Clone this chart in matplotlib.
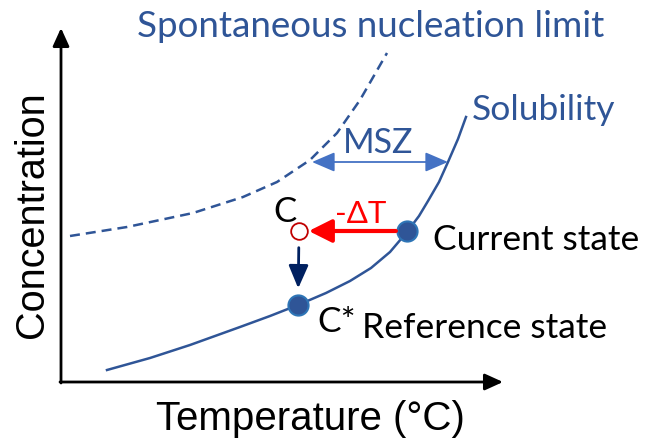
import matplotlib
matplotlib.use("Agg")
import matplotlib.pyplot as plt

# temperature / concentration in arbitrary units, origin at the axis corner
sol_T = [46, 89, 129, 179, 209, 237, 265, 289, 310, 329, 346, 358, 367, 378, 387, 397, 405]
sol_C = [12, 24, 37, 55, 66, 77, 89, 101, 114, 130, 150, 166, 181, 200, 220, 243, 265]

lim_T = [9, 66, 132, 182, 216, 249, 276, 299, 326]
lim_C = [146, 155, 169, 185, 200, 222, 249, 282, 329]

current = (346, 151)     # on the solubility curve
cooled = (238, 151)      # after cooling by dT
reference = (237, 77)    # C* on the solubility curve
msz_level = 220
msz_T = [251, 387]

x_end, y_end = 442, 354

navy = "#2F5597"
light = "#4472C4"

fig = plt.figure(figsize=(6.47, 4.40), dpi=100)
ax = fig.add_axes([0, 0, 1, 1])
ax.set_xlim(-61, 586)
ax.set_ylim(-58, 382)
ax.axis("off")

calibri_like = ["Lato", "DejaVu Sans"]
arial_like = ["Liberation Sans", "DejaVu Sans"]

# axes with arrow heads
axis_style = "-|>,head_length=0.55,head_width=0.25"
ax.annotate("", xy=(0, y_end), xytext=(0, -1),
            arrowprops=dict(arrowstyle=axis_style, color="black", lw=2,
                            mutation_scale=20, shrinkA=0, shrinkB=0))
ax.annotate("", xy=(x_end, 0), xytext=(-1, 0),
            arrowprops=dict(arrowstyle=axis_style, color="black", lw=2,
                            mutation_scale=20, shrinkA=0, shrinkB=0))

ax.plot(sol_T, sol_C, color=navy, lw=1.8, solid_joinstyle="round")
ax.plot(lim_T, lim_C, color=navy, lw=1.8, dashes=(4, 2.4))

# metastable zone width
ax.annotate("", xy=(msz_T[1], msz_level), xytext=(msz_T[0], msz_level),
            arrowprops=dict(arrowstyle="<|-|>,head_length=0.7,head_width=0.3",
                            color=light, lw=1.3, mutation_scale=20,
                            shrinkA=0, shrinkB=0))

# cooling step and drop to equilibrium
ax.annotate("", xy=cooled, xytext=current,
            arrowprops=dict(arrowstyle="-|>,head_length=0.7,head_width=0.35",
                            color="#FF0000", lw=3, mutation_scale=20,
                            shrinkA=8, shrinkB=7))
ax.annotate("", xy=reference, xytext=cooled,
            arrowprops=dict(arrowstyle="-|>,head_length=0.7,head_width=0.3",
                            color="#002060", lw=2, mutation_scale=20,
                            shrinkA=12, shrinkB=12))

ax.plot(*cooled, marker="o", ms=12, mfc="white", mec="#C00000", mew=1.3)
ax.plot([current[0], reference[0]], [current[1], reference[1]], ls="none",
        marker="o", ms=14.5, mfc=navy, mec="#2E75B6", mew=1.5)

label_kw = dict(family=calibri_like, ha="left", va="baseline")
ax.text(76, 345, "Spontaneous nucleation limit", color=navy, fontsize=26.5, **label_kw)
ax.text(411, 262, "Solubility", color=navy, fontsize=25.5, **label_kw)
ax.text(282, 229, "MSZ", color=navy, fontsize=24.5, **label_kw)
ax.text(274, 159, "-\u0394T", color="#FF0000", fontsize=22.5, **label_kw)
ax.text(212, 160, "C", color="black", fontsize=25, **label_kw)
ax.text(372, 132, "Current state", color="black", fontsize=25.5, **label_kw)
ax.text(256, 50, "C*", color="black", fontsize=25.5, **label_kw)
ax.text(301, 44, "Reference state", color="black", fontsize=25.5, **label_kw)

ax.text(-29, 167, "Concentration", color="black", fontsize=28.5, rotation=90,
        family=arial_like, ha="center", va="center")
ax.text(249, -48, "Temperature (\u00b0C)", color="black", fontsize=29,
        family=arial_like, ha="center", va="baseline")

fig.savefig("out.png", dpi=100)
